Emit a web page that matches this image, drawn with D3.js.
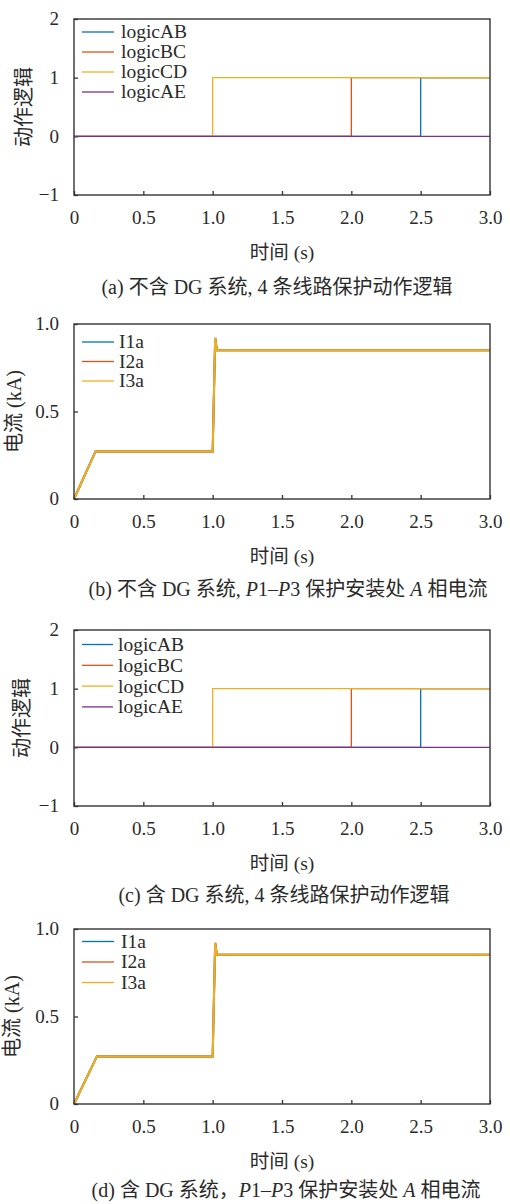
<!DOCTYPE html>
<meta charset="utf-8">
<script src="https://cdn.jsdelivr.net/npm/d3@7"></script>
<style>
  body { margin: 0; background: #fff; }
  text { font-family: "Liberation Serif", "Noto Sans CJK SC", serif; fill: #2a2a2a; }
  .line { fill: none; stroke-width: 1.4; }
</style>
<body>
<script>

// ---- data ----
var xTicks = [0, 0.5, 1.0, 1.5, 2.0, 2.5, 3.0]
var xTickLabels = ["0", "0.5", "1.0", "1.5", "2.0", "2.5", "3.0"]
var logicTicks = [-1, 0, 1, 2]
var logicTickLabels = ["\u22121", "0", "1", "2"]
var currTicks = [0, 0.5, 1.0]
var currTickLabels = ["0", "0.5", "1.0"]

var logicNames = ["logicAB", "logicBC", "logicCD", "logicAE"]
var currNames = ["I1a", "I2a", "I3a"]
var colors = ["#0072BD", "#D95319", "#EDB120", "#7E2F8E"]

// (a) without DG : [time, logic]
var logicAB_a = [[0, 0], [2.5, 0], [2.5, 1], [3.0, 1]]
var logicBC_a = [[0, 0], [2.0, 0], [2.0, 1], [3.0, 1]]
var logicCD_a = [[0, 0], [1.0, 0], [1.0, 1], [3.0, 1]]
var logicAE_a = [[0, 0], [3.0, 0]]

// (c) with DG
var logicAB_c = [[0, 0], [2.5, 0], [2.5, 1], [3.0, 1]]
var logicBC_c = [[0, 0], [2.0, 0], [2.0, 1], [3.0, 1]]
var logicCD_c = [[0, 0], [1.0, 0], [1.0, 1], [3.0, 1]]
var logicAE_c = [[0, 0], [3.0, 0]]

// (b) without DG : [time, kA]
var I1a_b = [[0, 0], [0.155, 0.272], [1.0, 0.272], [1.018, 0.92], [1.03, 0.85], [3.0, 0.85]]
var I2a_b = [[0, 0], [0.155, 0.272], [1.0, 0.272], [1.018, 0.92], [1.03, 0.85], [3.0, 0.85]]
var I3a_b = [[0, 0], [0.155, 0.272], [1.0, 0.272], [1.018, 0.92], [1.03, 0.85], [3.0, 0.85]]

// (d) with DG
var I1a_d = [[0, 0], [0.165, 0.272], [1.0, 0.272], [1.018, 0.92], [1.03, 0.853], [3.0, 0.853]]
var I2a_d = [[0, 0], [0.165, 0.272], [1.0, 0.272], [1.018, 0.92], [1.03, 0.853], [3.0, 0.853]]
var I3a_d = [[0, 0], [0.165, 0.272], [1.0, 0.272], [1.018, 0.92], [1.03, 0.853], [3.0, 0.853]]

// ---- layout ----
var W = 510, H = 1204
var left = 74, right = 490
var serif = "'Liberation Serif', 'Noto Sans CJK SC', serif"

var panels = [
    {top: 19, bottom: 195, yDomain: [-1, 2], ticks: logicTicks, tickLabels: logicTickLabels,
     names: logicNames, series: [logicAB_a, logicBC_a, logicCD_a, logicAE_a], ylabel: "动作逻辑", ylabelX: 24,
     legX: 82, legY: 32, legDy: 20, legW: 32, legTx: 121, caption: "a", capX: 277, capY: 287, lw: 1.3},
    {top: 324, bottom: 499, yDomain: [0, 1], ticks: currTicks, tickLabels: currTickLabels,
     names: currNames, series: [I1a_b, I2a_b, I3a_b], ylabel: "电流 (kA)", ylabelX: 14,
     legX: 82, legY: 342, legDy: 19.5, legW: 32, legTx: 119, caption: "b", capX: 288, capY: 589, lw: 2},
    {top: 630, bottom: 806, yDomain: [-1, 2], ticks: logicTicks, tickLabels: logicTickLabels,
     names: logicNames, series: [logicAB_c, logicBC_c, logicCD_c, logicAE_c], ylabel: "动作逻辑", ylabelX: 22,
     legX: 82, legY: 644.5, legDy: 20.8, legW: 31, legTx: 118, caption: "c", capX: 284, capY: 895, lw: 1.3},
    {top: 929, bottom: 1104, yDomain: [0, 1], ticks: currTicks, tickLabels: currTickLabels,
     names: currNames, series: [I1a_d, I2a_d, I3a_d], ylabel: "电流 (kA)", ylabelX: 12,
     legX: 82, legY: 941.5, legDy: 20.5, legW: 32, legTx: 121, caption: "d", capX: 286, capY: 1190, lw: 2}
]

var svg = d3.select("body").append("svg").attr("width", W).attr("height", H)

var x = d3.scaleLinear().domain([0, 3]).range([left, right])

panels.forEach((p) => {
    var y = d3.scaleLinear().domain(p.yDomain).range([p.bottom, p.top])
    var g = svg.append("g")

    // axes with inward ticks
    var xAxis = d3.axisBottom(x).tickValues(xTicks).tickFormat((d, i) => xTickLabels[i])
        .tickSizeInner(-4).tickSizeOuter(0).tickPadding(16)
    var yAxis = d3.axisLeft(y).tickValues(p.ticks).tickFormat((d, i) => p.tickLabels[i])
        .tickSizeInner(-4).tickSizeOuter(0).tickPadding(15)

    var gx = g.append("g").attr("transform", "translate(0," + p.bottom + ")").call(xAxis)
    var gy = g.append("g").attr("transform", "translate(" + left + ",0)").call(yAxis)
    ;[gx, gy].forEach((a) => {
        a.attr("font-family", serif)
        a.select(".domain").remove()
        a.selectAll("line").attr("stroke", "#333").attr("stroke-width", 1.3)
        a.selectAll("text").style("font-family", serif).style("font-size", "19px").attr("fill", "#2a2a2a")
    })
    gy.selectAll("text").attr("dy", "0.3em")

    // lines
    var line = d3.line().x((d) => x(d[0])).y((d) => y(d[1]))
    p.series.forEach((s, i) => {
        g.append("path").datum(s).attr("class", "line").attr("d", line)
            .style("stroke", colors[i]).style("stroke-width", p.lw)
    })

    // frame
    g.append("rect").attr("x", left).attr("y", p.top).attr("width", right - left).attr("height", p.bottom - p.top)
        .attr("fill", "none").attr("stroke", "#333").attr("stroke-width", 1.4)

    // legend
    p.names.forEach((n, i) => {
        var ly = p.legY + i * p.legDy
        g.append("line").attr("x1", p.legX).attr("x2", p.legX + p.legW).attr("y1", ly).attr("y2", ly)
            .attr("stroke", colors[i]).attr("stroke-width", 1.3)
        g.append("text").attr("x", p.legTx).attr("y", ly).attr("dy", "0.33em").text(n).style("font-size", "19.5px")
    })

    // axis titles
    g.append("text").attr("x", 282).attr("y", p.bottom + 57).attr("dy", "0.35em")
        .style("text-anchor", "middle").style("font-size", "19.5px").text("时间 (s)")
    g.append("text").attr("transform", "translate(" + p.ylabelX + "," + (p.top + p.bottom) / 2 + ") rotate(-90)")
        .attr("dy", "0.35em").style("text-anchor", "middle").style("font-size", "20px").text(p.ylabel)

    // caption
    var cap = g.append("text").attr("x", p.capX).attr("y", p.capY).attr("dy", "0.35em")
        .style("text-anchor", "middle").style("font-size", "20px")
    if (p.caption == "a") {
        cap.text("(a) 不含 DG 系统, 4 条线路保护动作逻辑")
    } else if (p.caption == "c") {
        cap.text("(c) 含 DG 系统, 4 条线路保护动作逻辑")
    } else {
        var pre = p.caption == "b" ? "(b) 不含 DG 系统, " : "(d) 含 DG 系统，"
        cap.append("tspan").text(pre)
        cap.append("tspan").style("font-style", "italic").text("P")
        cap.append("tspan").text("1\u2013")
        cap.append("tspan").style("font-style", "italic").text("P")
        cap.append("tspan").text("3 保护安装处 ")
        cap.append("tspan").style("font-style", "italic").text("A")
        cap.append("tspan").text(" 相电流")
    }
})

</script>
</body>
